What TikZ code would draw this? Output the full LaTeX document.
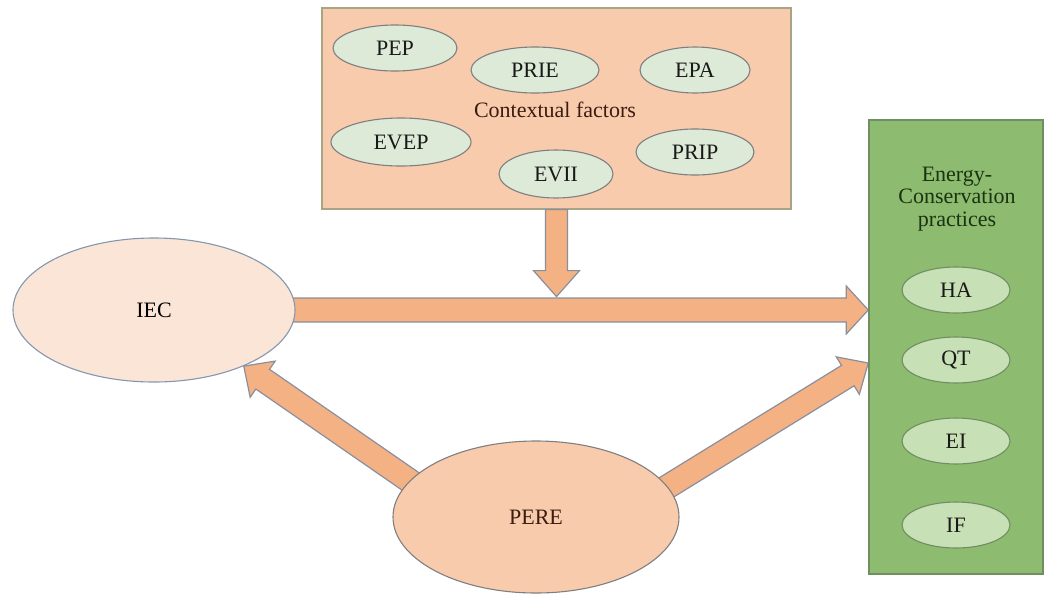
\documentclass[tikz,border=0pt]{standalone}
\usepackage{fontspec}
\setmainfont{Liberation Serif}
\usetikzlibrary{shapes.geometric,calc}
\pgfdeclarelayer{bg}
\pgfsetlayers{bg,main}
\definecolor{peach}{HTML}{F8CBAD}
\definecolor{lightpeach}{HTML}{FBE5D6}
\definecolor{arrowor}{HTML}{F4B183}
\definecolor{arrowline}{HTML}{8A8F9E}
\definecolor{greenbox}{HTML}{8DBB6F}
\definecolor{greenline}{HTML}{6F8F62}
\definecolor{lgreen}{HTML}{C7E0B5}
\definecolor{paleg}{HTML}{DDEAD8}
\definecolor{ctxline}{HTML}{A9A483}
\definecolor{ellline}{HTML}{7F7F7F}
\definecolor{iecline}{HTML}{8497B0}
\definecolor{browntext}{HTML}{3B1C0E}
\definecolor{greentext}{HTML}{1A3311}
\newcommand{\fatarrow}[5]{%
  \coordinate (fa-c) at ($(#2)!#5!(#1)$);
  \draw[fatarrowstyle] ($(#1)!#3!90:(#2)$) -- ($(fa-c)!#3!-90:(#1)$) -- ($(fa-c)!#4!-90:(#1)$) -- (#2) -- ($(fa-c)!#4!90:(#1)$) -- ($(fa-c)!#3!90:(#1)$) -- ($(#1)!#3!-90:(#2)$) -- cycle;}
\tikzset{
  fatarrowstyle/.style={fill=arrowor, draw=arrowline, line width=1.2pt, line join=miter},
  ctxbox/.style={rectangle, fill=peach, draw=ctxline, line width=1.2pt},
  grbox/.style={rectangle, fill=greenbox, draw=greenline, line width=1.5pt},
  smell/.style={ellipse, fill=paleg, draw=ellline, line width=1.1pt, inner sep=0pt, text=black!90},
  grell/.style={ellipse, fill=lgreen, draw=greenline, line width=1.1pt, inner sep=0pt, minimum width=108pt, minimum height=46pt, text=black!90},
  bigell/.style={ellipse, inner sep=0pt, line width=1.1pt},
}
\begin{document}
\begin{tikzpicture}[x=1pt, y=-1pt, font=\fontsize{22}{22.5}\selectfont]
\useasboundingbox (0,0) rectangle (1044,595);
% top box
\node[ctxbox, minimum width=469pt, minimum height=201pt] (ctx) at (556.5,108.5) {};
\node[smell, minimum width=124pt, minimum height=46pt] (pep) at (395,48) {PEP};
\node[smell, minimum width=128pt, minimum height=46pt] (prie) at (535,70) {PRIE};
\node[smell, minimum width=110pt, minimum height=46pt] (epa) at (695,70) {EPA};
\node[text=browntext] (ctxlabel) at (555,110) {Contextual factors};
\node[smell, minimum width=140pt, minimum height=48pt] (evep) at (401,142) {EVEP};
\node[smell, minimum width=114pt, minimum height=48pt] (evii) at (556,174) {EVII};
\node[smell, minimum width=118pt, minimum height=46pt] (prip) at (695,152) {PRIP};
% green box
\node[grbox, minimum width=174pt, minimum height=454pt] (green) at (956,347) {};
\node[text=greentext, align=center] (ectitle) at (957,199) {Energy-\\Conservation\\practices};
\node[grell] (ha) at (956,290) {HA};
\node[grell] (qt) at (956,360) {QT};
\node[grell] (ei) at (956,441) {EI};
\node[grell] (if) at (956,525) {IF};
% main ellipses
\node[bigell, fill=lightpeach, draw=iecline, minimum width=282pt, minimum height=144pt] (iec) at (154,310) {IEC};
\node[bigell, fill=peach, draw=ellline, minimum width=286pt, minimum height=152pt, text=browntext] (pere) at (536,517) {PERE};
% arrows
\coordinate (dtip) at ($(ctx.south)+(0,87)$);
\coordinate (htip) at (iec.east -| green.west);
\coordinate (rtip) at ($(green.west)+(0,16)$);
\coordinate (ltail) at ($(pere.164)!-12pt!(iec.-32)$);
\coordinate (rtail) at ($(pere.13)!-12pt!(rtip)$);
\coordinate (htail) at ($(iec.east)!-12pt!(htip)$);
\fatarrow{ctx.south}{dtip}{11pt}{23pt}{26pt}
\begin{pgfonlayer}{bg}
\fatarrow{htail}{htip}{12pt}{24pt}{22pt}
\fatarrow{ltail}{iec.-32}{12pt}{22pt}{23pt}
\fatarrow{rtail}{rtip}{12pt}{22pt}{24pt}
\end{pgfonlayer}
\end{tikzpicture}
\end{document}
